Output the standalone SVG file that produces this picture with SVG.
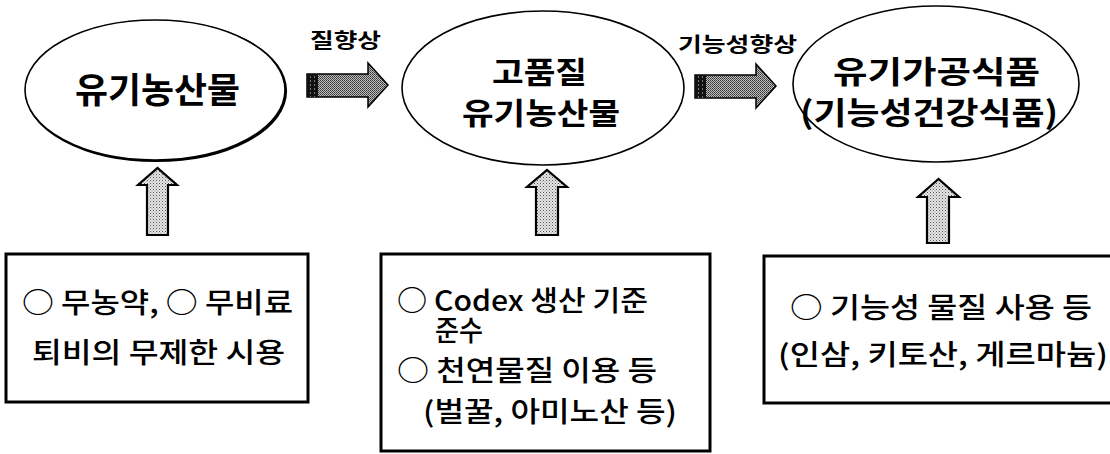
<svg xmlns="http://www.w3.org/2000/svg" width="1110" height="454" viewBox="0 0 1110 454">
  <defs>
    <pattern id="dotsLight" width="3" height="3" patternUnits="userSpaceOnUse">
      <rect width="3" height="3" fill="#e6e6e6"/>
      <rect x="0" y="0" width="1" height="1" fill="#555"/>
      <rect x="1.5" y="1.5" width="1" height="1" fill="#888"/>
    </pattern>
    <pattern id="dotsDark" width="2" height="2" patternUnits="userSpaceOnUse">
      <rect width="2" height="2" fill="#bdbdbd"/>
      <rect x="0" y="0" width="1" height="1" fill="#333"/>
      <rect x="1" y="1" width="1" height="1" fill="#555"/>
    </pattern>
    <pattern id="bandStripes" width="4" height="4" patternUnits="userSpaceOnUse">
      <rect width="4" height="4" fill="#111"/>
      <rect x="2" y="0" width="1" height="2" fill="#777"/>
    </pattern>
  </defs>
  <style>
    .ell { fill: #fff; stroke: #000; stroke-width: 1.6; }
    .box { fill: #fff; stroke: #000; stroke-width: 3; }
    .title { font-family: "Noto Sans CJK KR", "Noto Sans", sans-serif; font-weight: 700; fill: #000; }
    .lbl { font-family: "Noto Sans CJK KR", "Noto Sans", sans-serif; font-weight: 700; font-size: 20px; fill: #000; }
    .body { font-family: "Noto Sans CJK KR", "Liberation Sans", sans-serif; font-weight: 500; font-size: 28px; fill: #000; }
    .upArrow { fill: url(#dotsLight); stroke: #000; stroke-width: 2.2; stroke-linejoin: miter; }
    .rArrow { fill: url(#dotsDark); stroke: #000; stroke-width: 1.5; }
  </style>

  <!-- Connectors -->
  <g id="connectors">
    <g id="arrow-h1">
      <path class="rArrow" d="M307,74 L368,74 L368,63 L388,85 L368,107 L368,97 L307,97 Z"/>
      <rect x="307" y="74" width="11" height="23" fill="url(#bandStripes)"/>
      <text class="lbl" x="310" y="48" textLength="71" lengthAdjust="spacingAndGlyphs">질향상</text>
    </g>
    <g id="arrow-h2">
      <path class="rArrow" d="M695,75 L756,75 L756,64 L776,86 L756,108 L756,98 L695,98 Z"/>
      <rect x="695" y="75" width="11" height="23" fill="url(#bandStripes)"/>
      <text class="lbl" x="678" y="52" textLength="119" lengthAdjust="spacingAndGlyphs">기능성향상</text>
    </g>
    <path id="arrow-u1" class="upArrow" d="M147,235 L147,185 L138,185 L157.5,168 L177,185 L168,185 L168,235 Z"/>
    <path id="arrow-u2" class="upArrow" d="M536,235 L536,187 L527,187 L547,170 L567,187 L558,187 L558,235 Z"/>
    <path id="arrow-u3" class="upArrow" d="M927,243 L927,197 L918,197 L938.5,179 L959,197 L949,197 L949,243 Z"/>
  </g>

  <!-- Ellipse nodes -->
  <g id="node-organic">
    <ellipse cx="156" cy="91" rx="130" ry="70" fill="none" stroke="#000" stroke-width="2.2"/>
    <ellipse class="ell" cx="155" cy="90" rx="130" ry="70"/>
    <text class="title" x="75" y="103" font-size="35" textLength="165" lengthAdjust="spacingAndGlyphs">유기농산물</text>
  </g>
  <g id="node-highquality">
    <ellipse class="ell" cx="543" cy="88" rx="141" ry="77"/>
    <text class="title" x="492" y="83" font-size="30" textLength="95" lengthAdjust="spacingAndGlyphs">고품질</text>
    <text class="title" x="462" y="124" font-size="30" textLength="158" lengthAdjust="spacingAndGlyphs">유기농산물</text>
  </g>
  <g id="node-processed">
    <ellipse class="ell" cx="936" cy="84" rx="143" ry="78"/>
    <text class="title" x="833" y="83" font-size="31" textLength="207" lengthAdjust="spacingAndGlyphs">유기가공식품</text>
    <text class="title" x="800" y="124" font-size="31" textLength="258" lengthAdjust="spacingAndGlyphs">(기능성건강식품)</text>
  </g>

  <!-- Box nodes -->
  <g id="box-1">
    <rect class="box" x="6" y="254" width="302" height="148"/>
    <text class="body" x="22" y="313" textLength="271" lengthAdjust="spacingAndGlyphs">○ 무농약, ○ 무비료</text>
    <text class="body" x="32" y="363" textLength="253" lengthAdjust="spacingAndGlyphs">퇴비의 무제한 시용</text>
  </g>
  <g id="box-2">
    <rect class="box" x="381" y="254" width="329" height="197"/>
    <text class="body" font-size="26"><tspan x="397" y="311" textLength="251" lengthAdjust="spacingAndGlyphs">○ Codex 생산 기준</tspan><tspan x="435" y="341" textLength="48" lengthAdjust="spacingAndGlyphs">준수</tspan></text>
    <text class="body" x="397" y="381" textLength="260" lengthAdjust="spacingAndGlyphs">○ 천연물질 이용 등</text>
    <text class="body" x="423" y="422" textLength="254" lengthAdjust="spacingAndGlyphs">(벌꿀, 아미노산 등)</text>
  </g>
  <g id="box-3">
    <rect class="box" x="764" y="256" width="352" height="147"/>
    <text class="body" x="790" y="318" textLength="302" lengthAdjust="spacingAndGlyphs">○ 기능성 물질 사용 등</text>
    <text class="body" x="778" y="365" textLength="330" lengthAdjust="spacingAndGlyphs">(인삼, 키토산, 게르마늄)</text>
  </g>
</svg>
